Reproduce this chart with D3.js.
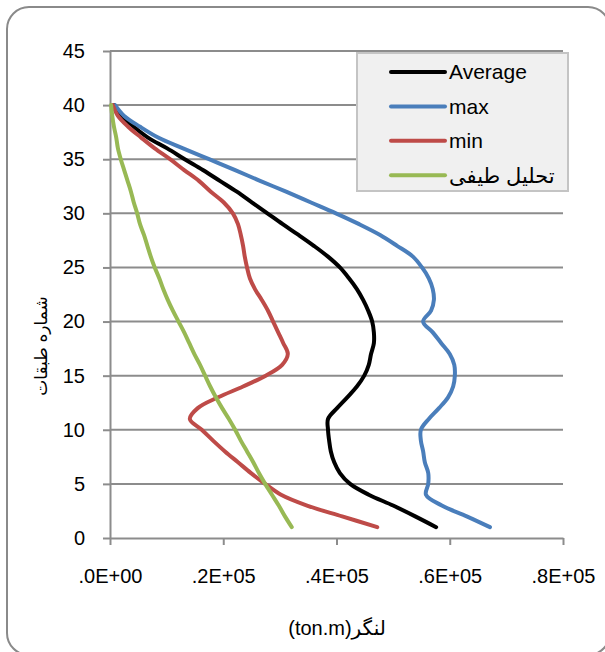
<!DOCTYPE html>
<html>
<head>
<meta charset="utf-8">
<script src="https://cdn.jsdelivr.net/npm/d3@7/dist/d3.min.js"></script>
<style>
  html, body { margin: 0; padding: 0; background: #fff; }
  svg { display: block; font-family: "Liberation Sans", "DejaVu Sans", Arial, sans-serif; }
</style>
</head>
<body>
<svg id="chart" width="605" height="652"></svg>
<script>
// Storey numbers (floor 1 at the base, 40 at the roof)
const floors = [1,2,3,4,5,6,7,8,9,10,11,12,13,14,15,16,17,18,19,20,
                21,22,23,24,25,26,27,28,29,30,31,32,33,34,35,36,37,38,39,40];

// Storey moment (ton.m) for each floor, one array per series
const averageVals = [576000,539000,500000,457000,424000,406000,396000,390000,387000,385000,
                     385000,401000,419000,436000,449000,457000,461000,466000,466000,463000,
                     456000,447000,436000,422000,406000,385000,360000,333000,305000,278000,
                     251000,224000,194000,164000,132000,101000,67000,42000,21000,7000];
const maxVals = [671000,630000,586000,558000,562000,562000,556000,553000,549000,549000,
                 563000,581000,597000,606000,609000,608000,600000,585000,570000,553000,
                 567000,572000,570000,563000,551000,535000,507000,477000,440000,399000,
                 355000,311000,265000,221000,175000,129000,85000,53000,25000,9000];
const minVals = [472000,410000,348000,302000,274000,249000,226000,203000,182000,162000,
                 141000,155000,191000,235000,275000,304000,314000,306000,297000,288000,
                 279000,268000,256000,247000,242000,238000,235000,231000,226000,217000,
                 201000,178000,157000,131000,106000,79000,55000,32000,14000,5000];
const spectralVals = [321000,309000,298000,286000,274000,263000,253000,242000,231000,221000,
                      210000,198000,187000,177000,168000,159000,149000,140000,131000,121000,
                      111000,102000,94000,87000,79000,72000,66000,60000,53000,48000,
                      42000,37000,31000,25000,19000,14000,11000,7000,4000,2000];

const seriesNames = ["Average", "max", "min", "تحلیل طیفی"];
const seriesColors = ["#000000", "#4A7EBB", "#BE4B48", "#98B954"];

// Axis ticks
const yTicks = [0,5,10,15,20,25,30,35,40,45];
const xTicks = [0,200000,400000,600000,800000];
const xTickLabels = [".0E+00", ".2E+05", ".4E+05", ".6E+05", ".8E+05"];

const xTitle = "(ton.m)لنگر";
const yTitle = "شماره طبقات";

const svg = d3.select("#chart");

// Outer chart frame (rounded, running off the right/bottom edge)
svg.append("rect")
  .attr("x", 7).attr("y", 7)
  .attr("width", 603).attr("height", 648)
  .attr("rx", 22).attr("ry", 22)
  .attr("fill", "#fff")
  .attr("stroke", "#8a8a8a")
  .attr("stroke-width", 2);

const plot = { left: 110, right: 563, top: 51, bottom: 538 };

const x = d3.scaleLinear().domain([0, 800000]).range([plot.left, plot.right]);
const y = d3.scaleLinear().domain([0, 45]).range([plot.bottom, plot.top]);

const gridColor = "#8c8c8c";

// Horizontal gridlines
svg.append("g")
  .selectAll("line")
  .data(yTicks.filter(d => d !== 0))
  .join("line")
  .attr("x1", plot.left).attr("x2", plot.right)
  .attr("y1", d => y(d)).attr("y2", d => y(d))
  .attr("stroke", gridColor)
  .attr("stroke-width", 2);

// Y axis
const yAxis = svg.append("g")
  .attr("transform", `translate(${plot.left},0)`)
  .call(d3.axisLeft(y).tickValues(yTicks).tickSize(7).tickSizeOuter(0).tickPadding(18));
yAxis.select(".domain").attr("stroke", gridColor).attr("stroke-width", 2);
yAxis.selectAll(".tick line").attr("stroke", gridColor).attr("stroke-width", 2);
yAxis.selectAll(".tick text")
  .attr("font-size", 20)
  .attr("font-family", "Liberation Sans, Arial, sans-serif")
  .attr("fill", "#000");

// X axis
const xAxis = svg.append("g")
  .attr("transform", `translate(0,${plot.bottom})`)
  .call(d3.axisBottom(x).tickValues(xTicks).tickSize(7).tickSizeOuter(0).tickPadding(24)
          .tickFormat((d, i) => xTickLabels[i]));
xAxis.select(".domain").attr("stroke", gridColor).attr("stroke-width", 2);
xAxis.selectAll(".tick line").attr("stroke", gridColor).attr("stroke-width", 2);
xAxis.selectAll(".tick text")
  .attr("font-size", 20)
  .attr("font-family", "Liberation Sans, Arial, sans-serif")
  .attr("fill", "#000");

// Series lines
const seriesData = [averageVals, maxVals, minVals, spectralVals];
const line = d3.line()
  .x(d => x(d.v))
  .y(d => y(d.f))
  .curve(d3.curveCatmullRom.alpha(0.5));

seriesData.forEach((vals, i) => {
  const pts = floors.map((f, k) => ({ f, v: vals[k] }));
  svg.append("path")
    .datum(pts)
    .attr("d", line)
    .attr("fill", "none")
    .attr("stroke", seriesColors[i])
    .attr("stroke-width", 4)
    .attr("stroke-linejoin", "round")
    .attr("stroke-linecap", "round");
});

// Legend
const legend = svg.append("g");
legend.append("rect")
  .attr("x", 357).attr("y", 53)
  .attr("width", 211).attr("height", 138)
  .attr("fill", "#f0f0f0")
  .attr("stroke", "#c4c4c4")
  .attr("stroke-width", 2);

seriesNames.forEach((name, i) => {
  const cy = 72 + i * 34.4;
  legend.append("line")
    .attr("x1", 391).attr("x2", 445)
    .attr("y1", cy).attr("y2", cy)
    .attr("stroke", seriesColors[i])
    .attr("stroke-width", 4)
    .attr("stroke-linecap", "round");
  legend.append("text")
    .attr("x", 449).attr("y", cy)
    .attr("dy", "0.35em")
    .attr("font-size", 21)
    .attr("fill", "#000")
    .text(name);
});

// Axis titles
svg.append("text")
  .attr("x", 337).attr("y", 628)
  .attr("dy", "0.35em")
  .attr("text-anchor", "middle")
  .attr("font-size", 20)
  .attr("fill", "#000")
  .text(xTitle);

svg.append("text")
  .attr("transform", "translate(41,346) rotate(-90)")
  .attr("dy", "0.35em")
  .attr("text-anchor", "middle")
  .attr("font-size", 17)
  .attr("fill", "#000")
  .text(yTitle);
</script>
</body>
</html>
